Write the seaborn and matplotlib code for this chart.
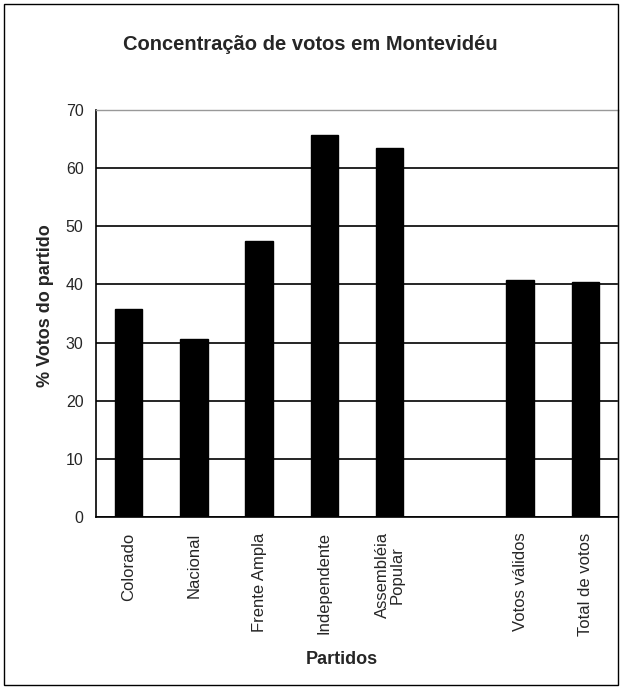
import pandas as pd
import numpy as np
import matplotlib
matplotlib.use("Agg")
import matplotlib.pyplot as plt
import seaborn as sns

# valores
partidos = ["Colorado", "Nacional", "Frente Ampla", "Independente",
            "Assembléia\nPopular", " ", "Votos válidos", "Total de votos"]
votos = [35.7, 30.6, 47.5, 65.7, 63.5, np.nan, 40.7, 40.4]

df = pd.DataFrame({"Partido": partidos, "Votos": votos})

sns.set_style("white")
plt.rcParams["font.family"] = ["Liberation Sans", "DejaVu Sans"]

fig = plt.figure(figsize=(6.22, 6.89), dpi=100)
ax = fig.add_axes([96 / 622, 1 - 517 / 689, 522 / 622, 407 / 689])

sns.barplot(data=df, x="Partido", y="Votos", order=partidos, color="black",
            width=0.42, saturation=1, ax=ax, edgecolor="black")

ax.set_ylim(0, 70)
ax.set_xlim(-0.5, len(partidos) - 0.5)
ax.set_yticks(range(0, 71, 10))
ax.yaxis.grid(True, color="black", linewidth=1.2)
ax.set_axisbelow(True)

ax.set_xticks(range(len(partidos)))
ax.set_xticklabels(partidos, rotation=90, fontsize=12, va="top", ha="center",
                   linespacing=1.0)
ax.set_xticks(np.arange(-0.5, len(partidos), 1), minor=True)
ax.tick_params(axis="x", which="major", length=0, pad=11)
ax.tick_params(axis="x", which="minor", length=5, width=1.2, color="black", direction="out")
ax.tick_params(axis="y", length=5, width=1.2, color="black", direction="out",
               labelsize=11.5, pad=4)

for s in ["top", "right"]:
    ax.spines[s].set_color("#999999")
    ax.spines[s].set_linewidth(1)
for s in ["left", "bottom"]:
    ax.spines[s].set_color("black")
    ax.spines[s].set_linewidth(1.2)

ax.set_xlabel("Partidos", fontsize=13, fontweight="bold", va="center")
ax.xaxis.set_label_coords(0.5 - 15 / 522, (517 - 660) / 407)
ax.set_ylabel("% Votos do partido", fontsize=13, fontweight="bold", va="center")
ax.yaxis.set_label_coords((45 - 96) / 522, (517 - 306) / 407)
fig.suptitle("Concentração de votos em Montevidéu", fontsize=14.5, fontweight="bold",
             x=310 / 622, y=1 - 45 / 689, va="center")

fig.patches.append(plt.Rectangle((4 / 622, 4 / 689), 614 / 622, 681 / 689,
                                 transform=fig.transFigure, fill=False,
                                 edgecolor="black", linewidth=1))

fig.savefig("out.png", dpi=100)
